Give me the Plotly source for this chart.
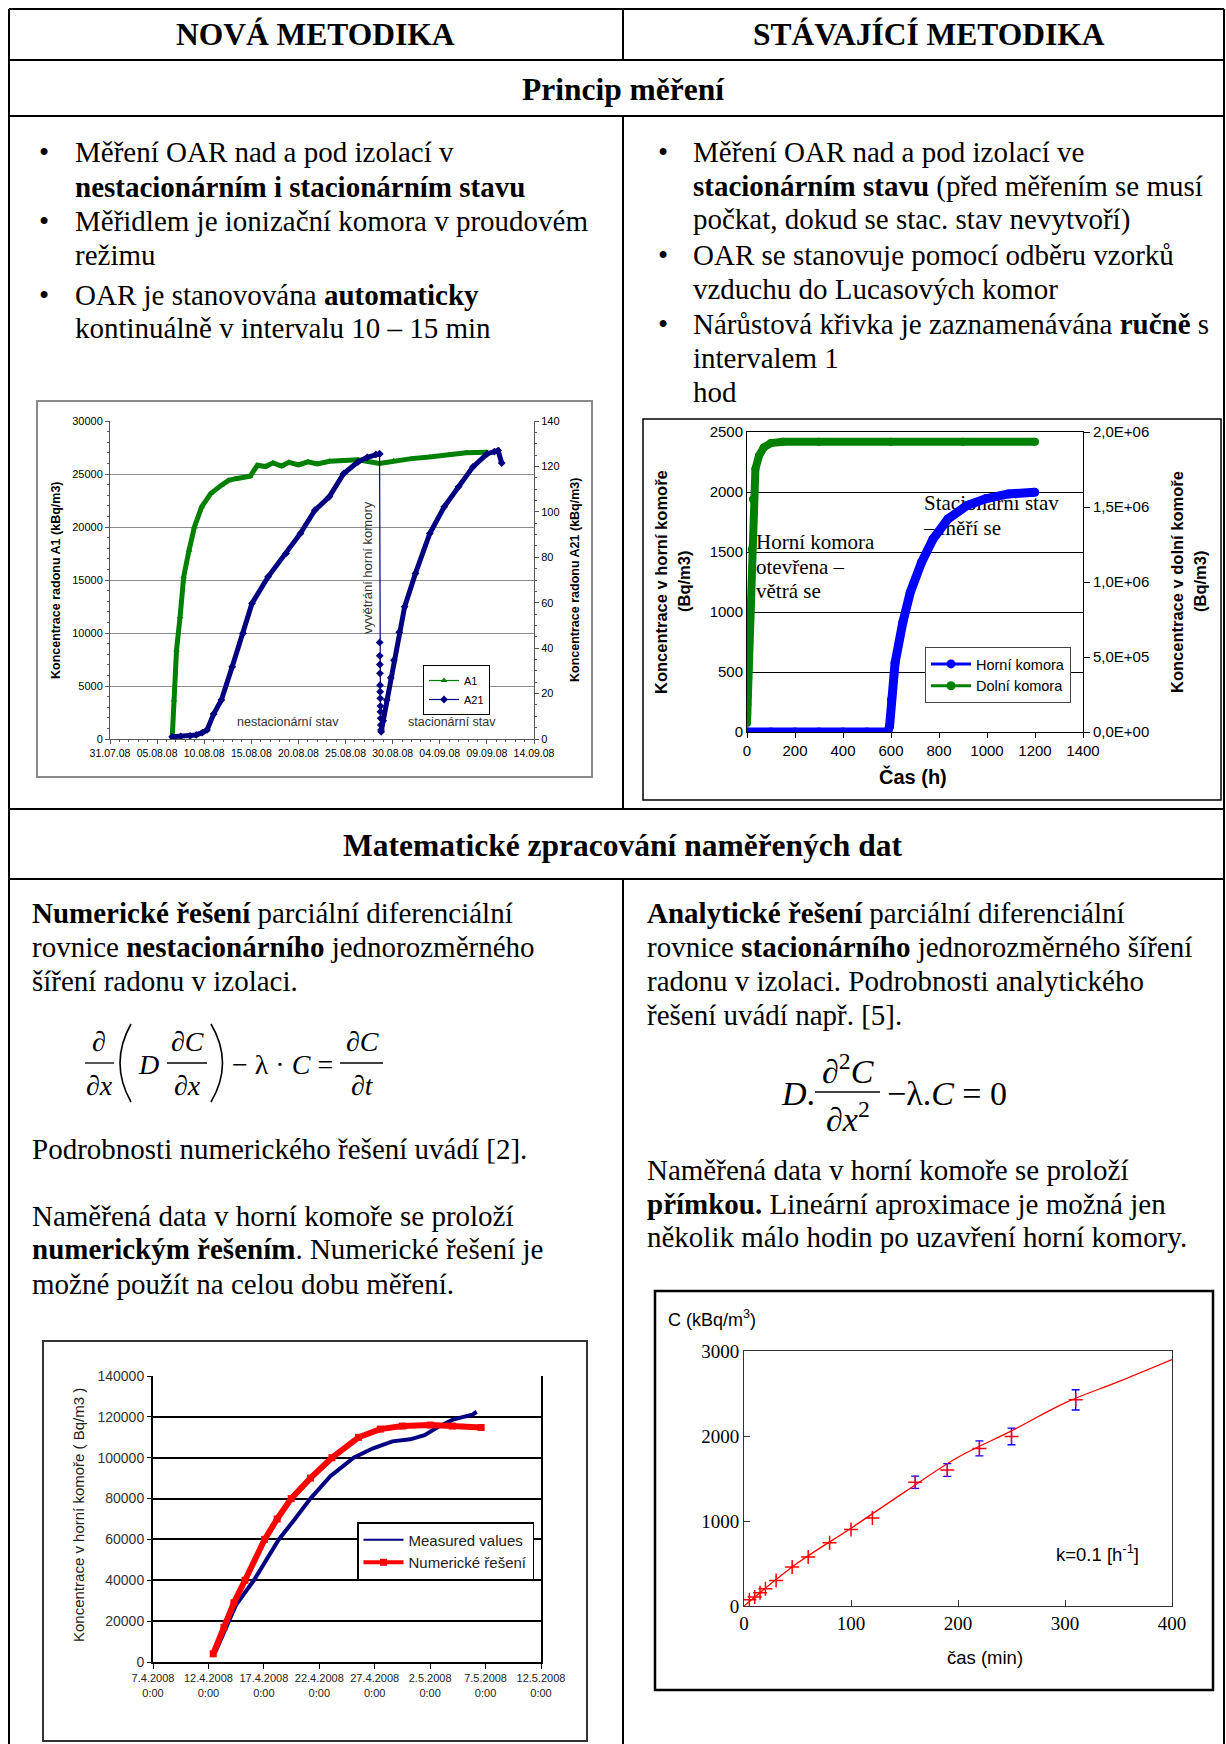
import plotly.graph_objects as go
import pandas as pd

# ======================= DATA =======================
# --- Chart 1 (top left): days after 31.07.2008 ---
c1_start, c1_end = "2008-07-31", "2008-09-14"
a1_days = [6.60, 6.79, 7.06, 7.44, 7.82, 8.39, 8.96, 9.73, 10.68, 11.82, 12.6, 13.35, 14.87,
           15.64, 16.5, 17.3, 18.2, 19.0, 20.0, 21.0, 22.0, 23.3, 24.8, 26.3, 28.6, 30.1,
           32.0, 33.9, 35.9, 37.8, 40.0]
a1_vals = [60, 3680, 8390, 11530, 15300, 17800, 20000, 21900, 23150, 23940, 24400, 24560, 24780,
           25820, 25700, 26050, 25750, 26100, 25850, 26150, 25950, 26200, 26250, 26350, 26000, 26250,
           26450, 26600, 26800, 27000, 27050]
a21_rise1_days = [6.60, 7.5, 8.5, 9.15, 9.8, 10.30, 11.0, 11.82, 12.97, 14.11, 15.07, 16.78,
                  18.69, 20.21, 21.74, 23.27, 24.79, 26.32, 27.3, 28.22, 28.61]
a21_rise1_vals = [1.0, 1.1, 1.4, 1.8, 2.8, 4.0, 11.0, 17.2, 31.8, 46.5, 59.7, 71.4,
                  81.7, 90.5, 100.7, 106.6, 116.8, 122.0, 124.0, 125.3, 125.5]
a21_drop_days = [28.61, 28.62, 28.63, 28.64, 28.65, 28.66, 28.67, 28.68, 28.70, 28.71, 28.72, 28.74, 28.76]
a21_drop_vals = [125.5, 42.5, 36.6, 32.8, 28.9, 23.7, 20.8, 17.9, 14.5, 12.0, 9.1, 6.2, 4.0]
a21_rise2_days = [28.78, 29.0, 29.37, 29.8, 30.13, 30.7, 31.27, 32.42, 33.94, 35.47, 36.99,
                  38.52, 40.05, 40.8, 41.19, 41.57]
a21_rise2_vals = [3.2, 8.0, 17.2, 27.0, 34.7, 47.0, 58.2, 72.9, 90.5, 102.2, 111.0,
                  119.8, 125.6, 126.5, 127.0, 121.5]

# --- Chart 2 (top right): hours ---
horni_h = [0, 100, 200, 300, 400, 500, 586, 594, 602, 617, 649, 680, 727, 775, 837, 916, 994, 1089, 1199]
horni_v = [0, 0, 0, 0, 0, 0, 0, 47, 270, 577, 911, 1162, 1413, 1608, 1775, 1887, 1943, 1984, 1998]
dolni_h = [0, 1, 2, 3, 4, 5, 6, 7, 8, 9, 10, 11, 12, 14, 20, 25, 35, 50, 70, 100, 150, 300, 600, 900, 1200]
dolni_v = [60000, 122000, 183000, 243000, 305000, 361000, 421000, 483000, 539000, 599000, 661000,
           717000, 777000, 850000, 1218000, 1552000, 1753000, 1842000, 1897000, 1926000, 1935000,
           1935000, 1935000, 1935000, 1935000]
c2_right_tickvals = [0, 500000, 1000000, 1500000, 2000000]
c2_right_ticktext = ["0,0E+00", "5,0E+05", "1,0E+06", "1,5E+06", "2,0E+06"]

# --- Chart 3 (bottom left): days after 7.4.2008 ---
c3_start, c3_end = "2008-04-07", "2008-05-12"
meas_days = [5.6, 6.5, 7.5, 9.1, 11.35, 12.8, 14.2, 16.0, 18.1, 19.8, 21.6, 23.2, 24.5, 25.7, 27.0, 28.0, 28.8, 29.2]
meas_vals = [4500, 16000, 28000, 40000, 60000, 70000, 80000, 91000, 100000, 104500, 108000, 109000,
             111000, 115000, 118500, 120000, 121000, 122500]
num_days = [5.43, 6.4, 7.3, 8.3, 10.07, 11.2, 12.46, 14.2, 16.14, 18.54, 20.5, 22.5, 25.0, 27.0, 29.6]
num_vals = [4000, 17000, 29000, 40000, 60000, 70000, 80000, 90000, 100000, 110000, 114000, 115500,
            116000, 115500, 114800]

# --- Chart 4 (bottom right): minutes ---
fit_t = [0, 50, 100, 150, 200, 250, 300, 350, 400]
fit_c = [0, 505, 915, 1340, 1750, 2060, 2390, 2640, 2900]
pts_t = [5, 10, 15, 20, 30, 45, 60, 80, 100, 120, 160, 190, 220, 250, 310]
pts_c = [74, 106, 156, 203, 301, 458, 575, 743, 900, 1036, 1455, 1600, 1854, 1995, 2425]
pts_err = [0, 0, 0, 0, 0, 0, 0, 0, 0, 0, 72, 74, 88, 98, 119]

# ======================= HELPERS =======================
W, H = 1226, 1744
def X(p): return p / W
def Y(p): return 1 - p / H

SERIF = "Liberation Serif"
SANS = "Liberation Sans"
DAY_MS = 86400000

def dates(start, days):
    return pd.Timestamp(start) + pd.to_timedelta(days, unit="D")

fig = go.Figure()

# ---------------- Chart 1 traces ----------------
fig.add_trace(go.Scatter(x=dates(c1_start, a1_days), y=a1_vals, mode="lines+markers",
                         line=dict(color="#008000", width=5),
                         marker=dict(symbol="triangle-up", size=6, color="#008000"),
                         xaxis="x", yaxis="y", showlegend=False, hoverinfo="skip"))
fig.add_trace(go.Scatter(x=dates(c1_start, a21_rise1_days), y=a21_rise1_vals, mode="lines+markers",
                         line=dict(color="#000080", width=5),
                         marker=dict(symbol="diamond", size=6, color="#000080"),
                         xaxis="x", yaxis="y2", showlegend=False, hoverinfo="skip"))
fig.add_trace(go.Scatter(x=dates(c1_start, a21_drop_days), y=a21_drop_vals, mode="lines+markers",
                         line=dict(color="#000080", width=1.2),
                         marker=dict(symbol="diamond", size=6, color="#000080"),
                         xaxis="x", yaxis="y2", showlegend=False, hoverinfo="skip"))
fig.add_trace(go.Scatter(x=dates(c1_start, a21_rise2_days), y=a21_rise2_vals, mode="lines+markers",
                         line=dict(color="#000080", width=5),
                         marker=dict(symbol="diamond", size=6, color="#000080"),
                         xaxis="x", yaxis="y2", showlegend=False, hoverinfo="skip"))
fig.add_trace(go.Scatter(x=[None], y=[None], mode="lines+markers", name="A1",
                         line=dict(color="#008000", width=1.2),
                         marker=dict(symbol="triangle-up", size=6, color="#008000"),
                         xaxis="x", yaxis="y", legend="legend"))
fig.add_trace(go.Scatter(x=[None], y=[None], mode="lines+markers", name="A21",
                         line=dict(color="#000080", width=1.2),
                         marker=dict(symbol="diamond", size=6, color="#000080"),
                         xaxis="x", yaxis="y", legend="legend"))

# ---------------- Chart 2 traces ----------------
def c2x(p): return (p - 747) / (1083 - 747) * 1400
def c2y(p): return (732 - p) / (732 - 432) * 2500

c2_labels = ["Horní komora", "otevřena –", "větrá se", "Stacionární stav", "– měří se"]
c2_lab_px = [(756, 544), (756, 568.5), (756, 593), (924, 505), (924, 530)]
fig.add_trace(go.Scatter(x=[c2x(p[0]) for p in c2_lab_px], y=[c2y(p[1]) for p in c2_lab_px],
                         mode="text", text=c2_labels, textposition="middle right",
                         textfont=dict(family=SERIF, size=21, color="black"),
                         xaxis="x2", yaxis="y3", showlegend=False, hoverinfo="skip", cliponaxis=False))
fig.add_trace(go.Scatter(x=horni_h, y=horni_v, mode="lines+markers",
                         line=dict(color="#0000ff", width=9),
                         marker=dict(symbol="circle", size=9, color="#0000ff"),
                         xaxis="x2", yaxis="y3", showlegend=False, hoverinfo="skip"))
fig.add_trace(go.Scatter(x=dolni_h, y=dolni_v, mode="lines+markers",
                         line=dict(color="#008000", width=8),
                         marker=dict(symbol="circle", size=8, color="#008000"),
                         xaxis="x2", yaxis="y4", showlegend=False, hoverinfo="skip"))
fig.add_trace(go.Scatter(x=[None], y=[None], mode="lines+markers", name="Horní komora",
                         line=dict(color="#0000ff", width=3),
                         marker=dict(symbol="circle", size=9, color="#0000ff"),
                         xaxis="x2", yaxis="y3", legend="legend2"))
fig.add_trace(go.Scatter(x=[None], y=[None], mode="lines+markers", name="Dolní komora",
                         line=dict(color="#008000", width=3),
                         marker=dict(symbol="circle", size=9, color="#008000"),
                         xaxis="x2", yaxis="y3", legend="legend2"))

# ---------------- Chart 3 traces ----------------
fig.add_trace(go.Scatter(x=dates(c3_start, meas_days), y=meas_vals, mode="lines",
                         line=dict(color="#000080", width=4),
                         xaxis="x3", yaxis="y5", showlegend=False, hoverinfo="skip"))
fig.add_trace(go.Scatter(x=dates(c3_start, num_days), y=num_vals, mode="lines+markers",
                         line=dict(color="#ff0000", width=6),
                         marker=dict(symbol="square", size=7, color="#ff0000"),
                         xaxis="x3", yaxis="y5", showlegend=False, hoverinfo="skip"))
fig.add_trace(go.Scatter(x=[None], y=[None], mode="lines", name="Measured values",
                         line=dict(color="#000080", width=2),
                         xaxis="x3", yaxis="y5", legend="legend3"))
fig.add_trace(go.Scatter(x=[None], y=[None], mode="lines+markers", name="Numerické řešení",
                         line=dict(color="#ff0000", width=4),
                         marker=dict(symbol="square", size=7, color="#ff0000"),
                         xaxis="x3", yaxis="y5", legend="legend3"))

# ---------------- Chart 4 traces ----------------
fig.add_trace(go.Scatter(x=fit_t, y=fit_c, mode="lines", line=dict(color="#ff0000", width=1.3, shape="spline"),
                         xaxis="x4", yaxis="y6", showlegend=False, hoverinfo="skip"))
err_t = [t for t, e in zip(pts_t, pts_err) if e > 0]
err_c = [c for c, e in zip(pts_c, pts_err) if e > 0]
err_e = [e for e in pts_err if e > 0]
fig.add_trace(go.Scatter(x=err_t, y=err_c, mode="markers", marker=dict(size=1, color="rgba(0,0,0,0)"),
                         error_y=dict(type="data", array=err_e, color="#0000ff", thickness=1.3, width=4),
                         xaxis="x4", yaxis="y6", showlegend=False, hoverinfo="skip"))
fig.add_trace(go.Scatter(x=pts_t, y=pts_c, mode="markers",
                         marker=dict(symbol="cross-thin", size=10, line=dict(color="#ff0000", width=1.5)),
                         xaxis="x4", yaxis="y6", showlegend=False, hoverinfo="skip"))

# ======================= SHAPES =======================
shapes = []
def hline(y, x0, x1, w=2.0, c="black"):
    shapes.append(dict(type="line", xref="paper", yref="paper", x0=X(x0), x1=X(x1), y0=Y(y), y1=Y(y),
                       line=dict(color=c, width=w)))
def vline(x, y0, y1, w=2.0, c="black"):
    shapes.append(dict(type="line", xref="paper", yref="paper", x0=X(x), x1=X(x), y0=Y(y0), y1=Y(y1),
                       line=dict(color=c, width=w)))
def rect(x0, y0, x1, y1, c, w):
    shapes.append(dict(type="rect", xref="paper", yref="paper", x0=X(x0), x1=X(x1), y0=Y(y1), y1=Y(y0),
                       line=dict(color=c, width=w), layer="below"))
def curve(xa, ya, xc, yc, xb, yb, w=1.6):
    shapes.append(dict(type="path", xref="paper", yref="paper",
                       path=f"M {X(xa)},{Y(ya)} Q {X(xc)},{Y(yc)} {X(xb)},{Y(yb)}",
                       line=dict(color="black", width=w)))

# table grid
for yy in (9, 60, 116, 809, 879):
    hline(yy, 9, 1224)
vline(9, 9, 1744)
vline(1224, 9, 1744)
vline(623, 9, 60)
vline(623, 116, 809)
vline(623, 879, 1744)

# chart frames
rect(37, 401, 592, 777, "#8a8a8a", 2)
rect(643, 419, 1221, 800, "black", 1.5)
rect(43, 1341, 587, 1741, "#333333", 2)
rect(655, 1291, 1213, 1690, "black", 2.5)

# equation fraction bars and parentheses
hline(1063, 85, 114, 1.3)
hline(1063, 167, 207, 1.3)
hline(1063, 340, 383, 1.3)
hline(1092, 815, 880, 1.4)
curve(131, 1024, 109, 1063, 131, 1102)
curve(211, 1024, 234, 1063, 211, 1102)

# ======================= ANNOTATIONS =======================
anns = []
def txt(x, y, s, size, font=SERIF, xanchor="left", yanchor="middle", angle=0, color="black"):
    anns.append(dict(x=X(x), y=Y(y), xref="paper", yref="paper", text=s, showarrow=False,
                     xanchor=xanchor, yanchor=yanchor, textangle=angle,
                     font=dict(family=font, size=size, color=color)))

# headers
txt(315, 35, "<b>NOVÁ METODIKA</b>", 31.5, xanchor="center")
txt(929, 35, "<b>STÁVAJÍCÍ METODIKA</b>", 31.5, xanchor="center")
txt(623, 89, "<b>Princip měření</b>", 31.5, xanchor="center")
txt(623, 845, "<b>Matematické zpracování naměřených dat</b>", 31.5, xanchor="center")

BODY = 29
left_lines = [(152, True, "Měření OAR nad a pod izolací v"),
              (187, False, "<b>nestacionárním i stacionárním stavu</b>"),
              (221, True, "Měřidlem je ionizační komora v proudovém"),
              (255, False, "režimu"),
              (295, True, "OAR je stanovována <b>automaticky</b>"),
              (328, False, "kontinuálně v intervalu 10 – 15 min")]
for yy, b, s in left_lines:
    if b:
        txt(44, yy, "•", BODY, xanchor="center")
    txt(73, yy, s, BODY)

right_lines = [(152, True, "Měření OAR nad a pod izolací ve"),
               (187, False, "<b>stacionárním stavu</b> (před měřením se musí"),
               (220, False, "počkat, dokud se stac. stav nevytvoří)"),
               (255, True, "OAR se stanovuje pomocí odběru vzorků"),
               (289, False, "vzduchu do Lucasových komor"),
               (324, True, "Nárůstová křivka je zaznamenávána <b>ručně</b> s"),
               (358, False, "intervalem 1"),
               (392, False, "hod")]
for yy, b, s in right_lines:
    if b:
        txt(663, yy, "•", BODY, xanchor="center")
    txt(691, yy, s, BODY)

bl = [(913, "<b>Numerické řešení</b> parciální diferenciální"),
      (947, "rovnice <b>nestacionárního</b> jednorozměrného"),
      (981, "šíření radonu v izolaci."),
      (1149, "Podrobnosti numerického řešení uvádí [2]."),
      (1216, "Naměřená data v horní komoře se proloží"),
      (1249, "<b>numerickým řešením</b>. Numerické řešení je"),
      (1284, "možné použít na celou dobu měření.")]
for yy, s in bl:
    txt(30, yy, s, BODY)
br = [(913, "<b>Analytické řešení</b> parciální diferenciální"),
      (947, "rovnice <b>stacionárního</b> jednorozměrného šíření"),
      (981, "radonu v izolaci. Podrobnosti analytického"),
      (1015, "řešení uvádí např. [5]."),
      (1170, "Naměřená data v horní komoře se proloží"),
      (1204, "<b>přímkou.</b> Lineární aproximace je možná jen"),
      (1237, "několik málo hodin po uzavření horní komory.")]
for yy, s in br:
    txt(645, yy, s, BODY)

# left equation
EQ = 28
txt(99, 1041, "∂", EQ, xanchor="center")
txt(99, 1085, "∂<i>x</i>", EQ, xanchor="center")
txt(148, 1064, "<i>D</i>", EQ, xanchor="center")
txt(187, 1041, "∂<i>C</i>", EQ, xanchor="center")
txt(187, 1085, "∂<i>x</i>", EQ, xanchor="center")
txt(282, 1064, "− λ · <i>C</i> =", EQ, xanchor="center")
txt(362, 1041, "∂<i>C</i>", EQ, xanchor="center")
txt(362, 1085, "∂<i>t</i>", EQ, xanchor="center")
# right equation
EQ2 = 34
txt(798, 1093, "<i>D</i>.", EQ2, xanchor="center")
txt(848, 1069, "∂<sup>2</sup><i>C</i>", EQ2, xanchor="center")
txt(848, 1117, "∂<i>x</i><sup>2</sup>", EQ2, xanchor="center")
txt(947, 1093, "−λ.<i>C</i> = 0", EQ2, xanchor="center")

# chart 1 texts
txt(56, 580, "<b>Koncentrace radonu A1 (kBq/m3)</b>", 12.5, font=SANS, xanchor="center", angle=-90)
txt(575, 580, "<b>Koncentrace radonu A21 (kBq/m3)</b>", 12.5, font=SANS, xanchor="center", angle=-90)
txt(368, 568, "vyvětrání horní komory", 13, font=SANS, xanchor="center", angle=-90, color="#333")
txt(288, 722, "nestacionární stav", 12.5, font=SANS, xanchor="center", color="#333")
txt(452, 722, "stacionární stav", 12.5, font=SANS, xanchor="center", color="#333")

# chart 2 texts
txt(661, 582, "<b>Koncentrace v horní komoře</b>", 16.5, font=SANS, xanchor="center", angle=-90)
txt(684, 582, "<b>(Bq/m3)</b>", 16.5, font=SANS, xanchor="center", angle=-90)
txt(1177, 582, "<b>Koncentrace v dolní komoře</b>", 16.5, font=SANS, xanchor="center", angle=-90)
txt(1200, 582, "<b>(Bq/m3)</b>", 16.5, font=SANS, xanchor="center", angle=-90)
txt(913, 776, "<b>Čas (h)</b>", 20, font=SANS, xanchor="center")

# chart 3 texts
txt(78, 1515, "Koncentrace v horní komoře ( Bq/m3 )", 15, font=SANS, xanchor="center", angle=-90, color="#222")

# chart 4 texts
txt(666, 1318, "C (kBq/m<sup>3</sup>)", 18, font=SANS)
txt(985, 1657, "čas (min)", 18.5, font=SANS, xanchor="center")
txt(1054, 1553, "k=0.1 [h<sup>-1</sup>]", 18.5, font=SANS)

# ======================= LAYOUT =======================
def tick_sans(s, c="black"):
    return dict(family=SANS, size=s, color=c)

fig.update_layout(
    template="none",
    width=W, height=H, margin=dict(l=0, r=0, t=0, b=0, pad=0), autosize=False,
    paper_bgcolor="white", plot_bgcolor="rgba(0,0,0,0)", font=dict(family=SANS, color="black"),
    shapes=shapes, annotations=anns, hovermode=False,
    # chart 1
    xaxis=dict(domain=[X(110), X(534)], anchor="y", type="date", range=[c1_start, c1_end],
               tick0=c1_start, dtick=5 * DAY_MS, tickformat="%d.%m.%y", ticks="outside", ticklen=4,
               tickcolor="#555", showline=True, linecolor="#555", showgrid=False, zeroline=False,
               tickfont=tick_sans(10.5), minor=dict(dtick=DAY_MS, ticks="outside", ticklen=2, tickcolor="#555")),
    yaxis=dict(domain=[Y(739), Y(421)], anchor="x", range=[0, 30000], dtick=5000, tickformat="d",
               showgrid=True, gridcolor="#8c8c8c", gridwidth=1, showline=True, linecolor="#555",
               ticks="outside", ticklen=4, tickcolor="#555", zeroline=False, tickfont=tick_sans(11),
               minor=dict(dtick=1000, ticks="outside", ticklen=2, tickcolor="#555", showgrid=False)),
    yaxis2=dict(overlaying="y", anchor="x", side="right", range=[0, 140], dtick=20, showgrid=False,
                showline=True, linecolor="#555", ticks="outside", ticklen=4, tickcolor="#555",
                zeroline=False, tickfont=tick_sans(11),
                minor=dict(dtick=5, ticks="outside", ticklen=2, tickcolor="#555", showgrid=False)),
    # chart 2
    xaxis2=dict(domain=[X(747), X(1083)], anchor="y3", range=[0, 1400], dtick=200, ticks="outside",
                ticklen=5, tickcolor="black", showline=True, linecolor="black", mirror=True,
                showgrid=False, zeroline=False, tickfont=tick_sans(15)),
    yaxis3=dict(domain=[Y(732), Y(432)], anchor="x2", range=[0, 2500], dtick=500, tickformat="d",
                showgrid=True, gridcolor="black", gridwidth=1, showline=True, linecolor="black",
                ticks="", zeroline=False, tickfont=tick_sans(15)),
    yaxis4=dict(overlaying="y3", anchor="x2", side="right", range=[0, 2000000],
                tickvals=c2_right_tickvals, ticktext=c2_right_ticktext, ticks="outside", ticklen=6,
                tickcolor="black", showline=True, linecolor="black", showgrid=False, zeroline=False,
                tickfont=tick_sans(15)),
    # chart 3
    xaxis3=dict(domain=[X(153), X(541)], anchor="y5", type="date", range=[c3_start, c3_end],
                tick0=c3_start, dtick=5 * DAY_MS, tickformat="%-d.%-m.%Y<br>%-H:%M", ticks="outside",
                ticklen=5, tickcolor="black", showline=True, linecolor="black", linewidth=2,
                showgrid=False, zeroline=False, tickfont=tick_sans(11, "#222")),
    yaxis5=dict(domain=[Y(1662), Y(1376)], anchor="x3", range=[0, 140000], dtick=20000, tickformat="d",
                showgrid=True, gridcolor="black", gridwidth=2, showline=True, linecolor="black",
                linewidth=2, mirror=True, ticks="outside", ticklen=4, tickcolor="black",
                zeroline=False, tickfont=tick_sans(14, "#333")),
    # chart 4
    xaxis4=dict(domain=[X(744), X(1172)], anchor="y6", range=[0, 400], dtick=100, ticks="inside",
                ticklen=6, tickcolor="#333", showline=True, mirror=True, linecolor="#333",
                showgrid=False, zeroline=False, tickfont=dict(family=SERIF, size=19, color="black")),
    yaxis6=dict(domain=[Y(1606), Y(1351)], anchor="x4", range=[0, 3000], dtick=1000, tickformat="d",
                ticks="inside", ticklen=6, tickcolor="#333", showline=True, mirror=True,
                linecolor="#333", showgrid=False, zeroline=False,
                tickfont=dict(family=SERIF, size=19, color="black")),
    legend=dict(x=X(423), y=Y(665), xanchor="left", yanchor="top", bgcolor="white",
                bordercolor="black", borderwidth=1, font=tick_sans(11), itemwidth=30, tracegroupgap=0),
    legend2=dict(x=X(925), y=Y(647), xanchor="left", yanchor="top", bgcolor="white",
                 bordercolor="#444", borderwidth=1, font=tick_sans(14.5), itemwidth=40, tracegroupgap=0),
    legend3=dict(x=X(357), y=Y(1522), xanchor="left", yanchor="top", bgcolor="white",
                 bordercolor="black", borderwidth=1.5, font=tick_sans(15, "#222"), itemwidth=40,
                 tracegroupgap=0),
)
fig.update_xaxes(automargin=False)
fig.update_yaxes(automargin=False)

fig.write_html("out.html", config={"displayModeBar": False},
               post_script="document.body.style.margin='0px';")
